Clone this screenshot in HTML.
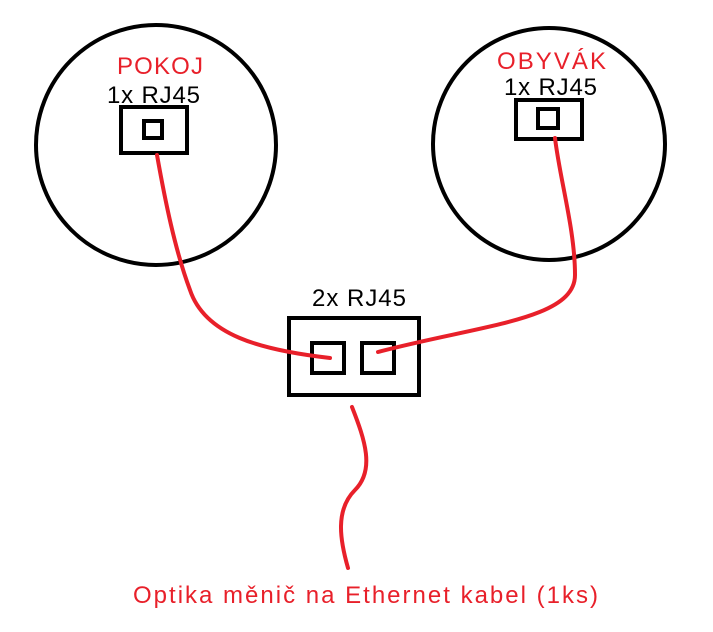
<!DOCTYPE html>
<html><head><meta charset="utf-8"><style>
html,body{margin:0;padding:0;background:#fff;width:713px;height:632px;overflow:hidden}
svg{display:block}
text{font-family:"Liberation Sans",sans-serif;font-size:24px}
</style></head><body>
<svg width="713" height="632" viewBox="0 0 713 632" xmlns="http://www.w3.org/2000/svg">
<rect width="713" height="632" fill="#fff"/>
<circle cx="156" cy="145" r="120" fill="none" stroke="#000" stroke-width="4"/>
<circle cx="549" cy="144" r="116" fill="none" stroke="#000" stroke-width="4"/>
<rect x="121" y="107" width="66" height="46" fill="none" stroke="#000" stroke-width="4"/>
<rect x="144" y="121" width="18" height="17" fill="none" stroke="#000" stroke-width="4"/>
<rect x="516" y="100" width="66" height="39" fill="none" stroke="#000" stroke-width="4"/>
<rect x="538" y="109" width="20" height="19" fill="none" stroke="#000" stroke-width="4"/>
<rect x="289" y="318" width="130" height="77" fill="none" stroke="#000" stroke-width="4"/>
<rect x="312" y="343" width="32" height="30" fill="none" stroke="#000" stroke-width="4"/>
<rect x="362" y="343" width="32" height="30" fill="none" stroke="#000" stroke-width="4"/>
<g fill="none" stroke="#e8202a" stroke-width="4" stroke-linecap="round">
<path d="M157 155 C165 200,175 250,190 290 C205 335,260 350,330 358"/>
<path d="M555 138 C560 180,575 230,575 275 C575 320,480 325,378 352"/>
<path d="M352 407 C365 440,375 470,355 490 C335 510,340 540,348 568"/>
</g>
<g fill="#e8202a">
<text x="117" y="74" textLength="86" lengthAdjust="spacing">POKOJ</text>
<text x="497" y="69" textLength="109" lengthAdjust="spacing">OBYVÁK</text>
<text x="133" y="603" textLength="465" lengthAdjust="spacing">Optika měnič na Ethernet kabel (1ks)</text>
</g>
<g fill="#000">
<text x="107" y="103" textLength="93" lengthAdjust="spacing">1x RJ45</text>
<text x="504" y="95" textLength="93" lengthAdjust="spacing">1x RJ45</text>
<text x="312" y="306" textLength="94" lengthAdjust="spacing">2x RJ45</text>
</g>
</svg>
</body></html>
